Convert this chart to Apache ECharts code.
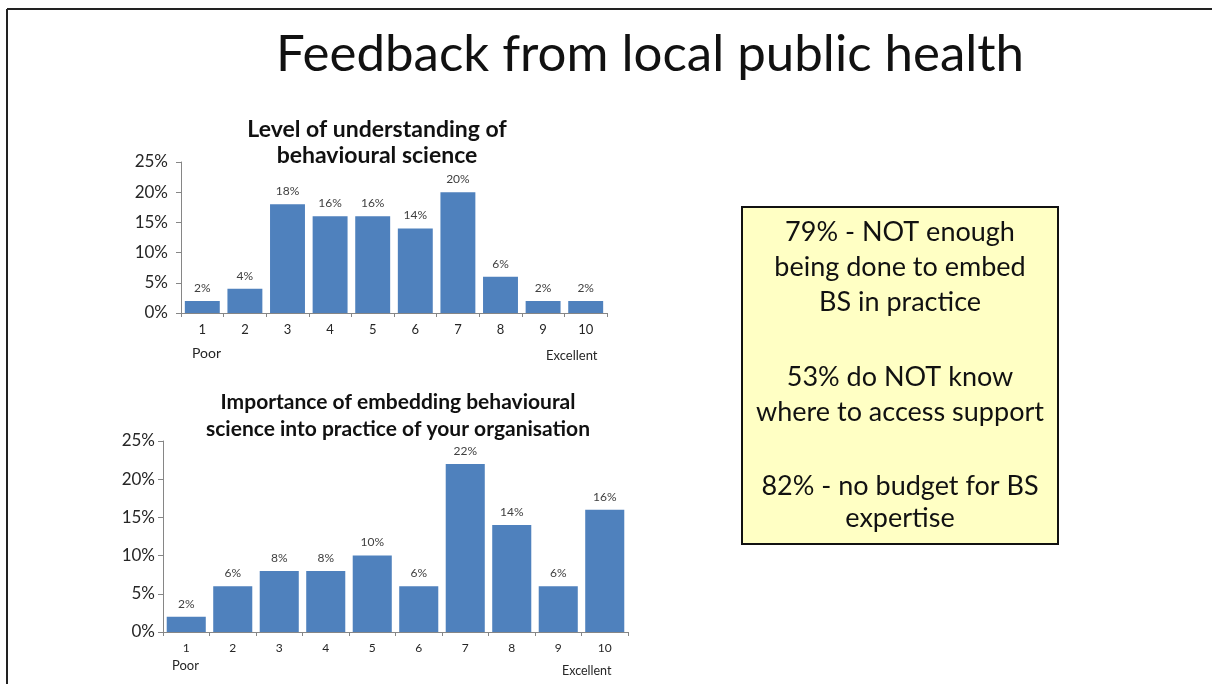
<!DOCTYPE html>
<html>
<head>
<meta charset="utf-8">
<script src="https://cdn.jsdelivr.net/npm/echarts@6/dist/echarts.min.js"></script>
<style>
  html, body { margin: 0; padding: 0; background: #fff; }
  #main { width: 1212px; height: 684px; }
</style>
</head>
<body>
<div id="main"></div>
<script>
// scores 1..10
const categories = ['1', '2', '3', '4', '5', '6', '7', '8', '9', '10'];
const understanding = [2, 4, 18, 16, 16, 14, 20, 6, 2, 2];
const importance = [2, 6, 8, 8, 10, 6, 22, 14, 6, 16];
const yTicks = [0, 5, 10, 15, 20, 25];

const slideTitle = 'Feedback from local public health';
const chartTitles = [
  'Level of understanding of\nbehavioural science',
  'Importance of embedding behavioural\nscience into practice of your organisation'
];
const boxParagraphs = [
  '79% - NOT enough\nbeing done to embed\nBS in practice',
  '53% do NOT know\nwhere to access support',
  '82% - no budget for BS\nexpertise'
];

const font = 'Lato';
const barColor = '#4f81bd';
const axisColor = '#868686';

function xAxisFor(gridIndex, size) {
  return {
    type: 'category',
    gridIndex: gridIndex,
    data: categories,
    axisLine: { lineStyle: { color: axisColor } },
    axisTick: { show: true, length: 4, lineStyle: { color: axisColor } },
    axisLabel: { color: '#262626', fontSize: size, fontFamily: font, margin: 10 }
  };
}
function yAxisFor(gridIndex, margin) {
  return {
    type: 'value',
    gridIndex: gridIndex,
    min: yTicks[0],
    max: yTicks[yTicks.length - 1],
    interval: 5,
    splitLine: { show: false },
    axisLine: { show: true, lineStyle: { color: axisColor } },
    axisTick: { show: true, length: 5, lineStyle: { color: axisColor } },
    axisLabel: { formatter: '{value}%', color: '#262626', fontSize: 17, fontFamily: font, margin: margin }
  };
}
function barSeries(idx, values, gap) {
  return {
    type: 'bar',
    xAxisIndex: idx,
    yAxisIndex: idx,
    data: values,
    barCategoryGap: gap,
    itemStyle: { color: barColor },
    label: {
      show: true, position: 'top', distance: 7,
      formatter: '{c}%', color: '#404040', fontSize: 12, fontFamily: font
    }
  };
}

const chart = echarts.init(document.getElementById('main'));
chart.setOption({
  animation: false,
  backgroundColor: '#fff',
  title: [
    { text: slideTitle, left: 645, top: 24, textAlign: 'center',
      textStyle: { fontFamily: font, fontSize: 51, fontWeight: 'normal', color: '#111' } },
    { text: chartTitles[0], left: 372, top: 112, textAlign: 'center',
      textStyle: { fontFamily: font, fontSize: 23, fontWeight: 'bold', color: '#111', lineHeight: 26 } },
    { text: chartTitles[1], left: 393, top: 384, textAlign: 'center',
      textStyle: { fontFamily: font, fontSize: 21, fontWeight: 'bold', color: '#111', lineHeight: 27 } }
  ],
  grid: [
    { left: 181, right: 605, top: 162, bottom: 371 },
    { left: 163, right: 584, top: 441, bottom: 52 }
  ],
  xAxis: [xAxisFor(0, 13), xAxisFor(1, 12)],
  yAxis: [yAxisFor(0, 13), yAxisFor(1, 8)],
  series: [barSeries(0, understanding, '18%'), barSeries(1, importance, '16%')],
  graphic: [
    // slide frame (top and left edges)
    { type: 'line', shape: { x1: 7, y1: 9, x2: 1212, y2: 9 }, style: { stroke: '#222', lineWidth: 2 } },
    { type: 'line', shape: { x1: 7, y1: 9, x2: 7, y2: 684 }, style: { stroke: '#222', lineWidth: 2 } },
    // axis end notes
    { type: 'text', left: 192, top: 346, style: { text: 'Poor', font: '14px Lato', fill: '#262626' } },
    { type: 'text', left: 546, top: 349, style: { text: 'Excellent', font: '13px Lato', fill: '#262626' } },
    { type: 'text', left: 172, top: 659, style: { text: 'Poor', font: '13px Lato', fill: '#262626' } },
    { type: 'text', left: 562, top: 664, style: { text: 'Excellent', font: '12.5px Lato', fill: '#262626' } },
    // summary box
    { type: 'rect', shape: { x: 742, y: 207, width: 316, height: 337 },
      style: { fill: '#ffffc4', stroke: '#111', lineWidth: 2 } },
    { type: 'text', x: 900, y: 215,
      style: { text: boxParagraphs[0], font: '27px Lato', fill: '#111', align: 'center', lineHeight: 35 } },
    { type: 'text', x: 900, y: 360,
      style: { text: boxParagraphs[1], font: '27px Lato', fill: '#111', align: 'center', lineHeight: 35 } },
    { type: 'text', x: 900, y: 470,
      style: { text: boxParagraphs[2], font: '27px Lato', fill: '#111', align: 'center', lineHeight: 32 } }
  ]
});
</script>
</body>
</html>
